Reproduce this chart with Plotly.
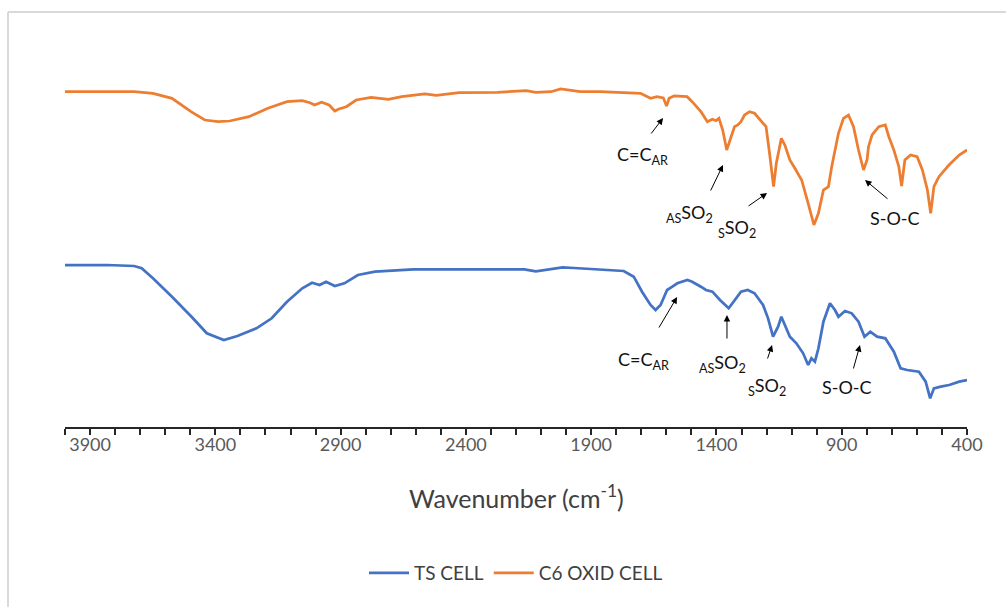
import plotly.graph_objects as go

# ---- data (wavenumber in cm-1, transmittance in arbitrary offset units) ----
wn_c6 = [4000, 3724, 3649, 3573, 3497, 3442, 3389, 3343, 3266, 3190, 3114, 3053, 3022, 3004,
         2976, 2946, 2923, 2907, 2877, 2838, 2778, 2709, 2656, 2564, 2518, 2427, 2274, 2159,
         2121, 2060, 2022, 1968, 1944, 1865, 1703, 1663, 1637, 1612, 1599, 1589, 1569, 1517,
         1497, 1462, 1436, 1416, 1402, 1390, 1375, 1359, 1349, 1328, 1315, 1302, 1288, 1268,
         1248, 1214, 1202, 1188, 1172, 1161, 1141, 1127, 1107, 1087, 1060, 1034, 1011, 993,
         973, 953, 940, 913, 893, 873, 853, 833, 813, 799, 793, 779, 752, 726, 712, 692, 672,
         661, 648, 625, 599, 578, 558, 545, 532, 512, 472, 431, 400]
t_c6 = [335.3, 335.3, 333.7, 328.7, 315.3, 307.0, 305.3, 306.0, 310.3, 318.7, 325.3, 326.3,
        324.3, 322.0, 324.7, 322.0, 316.0, 318.0, 320.3, 327.0, 329.7, 327.7, 330.3, 333.0,
        331.7, 334.3, 334.7, 336.3, 334.7, 335.3, 338.0, 336.3, 335.3, 335.3, 333.7, 328.7,
        330.3, 329.0, 321.0, 328.7, 331.0, 330.3, 325.3, 315.3, 305.3, 307.7, 306.3, 308.7,
        297.0, 277.0, 285.3, 300.3, 302.0, 305.3, 312.0, 315.3, 313.7, 303.7, 300.3, 273.7,
        240.3, 263.7, 288.7, 282.0, 267.0, 258.7, 247.0, 223.7, 202.0, 213.7, 237.0, 240.3,
        260.3, 293.7, 308.7, 312.0, 300.3, 277.0, 257.0, 267.0, 280.3, 292.0, 300.3, 302.0,
        290.3, 277.0, 260.3, 241.0, 267.0, 272.0, 270.3, 257.0, 237.0, 213.7, 240.3, 250.3,
        262.0, 272.0, 277.0]

wn_ts = [4000, 3832, 3724, 3694, 3649, 3573, 3495, 3434, 3366, 3312, 3236, 3175, 3114, 3053,
         3014, 2984, 2958, 2923, 2885, 2831, 2763, 2610, 2427, 2167, 2121, 2014, 1968, 1944,
         1865, 1770, 1730, 1697, 1663, 1643, 1623, 1597, 1576, 1556, 1516, 1497, 1462, 1442,
         1416, 1386, 1351, 1328, 1302, 1275, 1248, 1214, 1194, 1174, 1154, 1141, 1127, 1107,
         1081, 1054, 1034, 1021, 1007, 993, 973, 947, 927, 913, 887, 860, 833, 809, 786, 759,
         726, 692, 665, 639, 592, 565, 547, 532, 505, 471, 431, 400]
t_ts = [162.0, 162.0, 161.0, 158.7, 148.7, 130.3, 110.3, 93.7, 87.0, 91.0, 98.7, 108.7, 125.3,
        138.7, 144.3, 142.0, 145.3, 141.0, 143.7, 152.0, 155.3, 157.7, 157.7, 157.7, 155.7,
        159.7, 159.0, 158.7, 157.0, 156.0, 150.3, 135.3, 122.0, 117.0, 122.0, 137.0, 140.3,
        143.7, 147.0, 145.3, 140.3, 137.0, 135.3, 127.0, 118.7, 127.0, 135.3, 137.0, 133.7,
        122.0, 108.7, 90.3, 100.3, 110.3, 102.0, 90.3, 83.7, 73.7, 62.0, 68.7, 65.3, 78.7,
        105.3, 123.7, 117.0, 110.3, 116.0, 113.7, 105.3, 90.3, 95.3, 90.3, 88.7, 75.3, 58.7,
        57.0, 55.3, 45.3, 28.7, 38.7, 40.3, 42.0, 45.3, 47.0]

tick_vals = [3900, 3400, 2900, 2400, 1900, 1400, 900, 400]
tick_text = ["3900", "3400", "2900", "2400", "1900", "1400", "900", "400"]

# band labels: text, arrow-tip wavenumber, arrow-tip value
labels = ["C=C<sub>AR</sub>", "<sub>AS</sub>SO<sub>2</sub>", "<sub>S</sub>SO<sub>2</sub>", "S-O-C"]
c6_tip_wn = [1613, 1374, 1198, 807]
c6_tip_t = [309, 262, 234, 247]
ts_tip_wn = [1557, 1358, 1178, 827]
ts_tip_t = [130, 112, 82, 82]

# ---- styling ----
BLUE = "#4472C4"
ORANGE = "#ED7D31"
FONT = "Lato"

# arrow tail offsets (px) and text offsets (px) for each label
c6_tail = [(-13, 17), (-13, 27), (-20, 14), (24, 20)]
c6_text = [(-21, 37), (-33, 48), (-30, 35), (30, 38)]
ts_tail = [(-19, 32), (0, 25), (-5, 15), (-7, 25)]
ts_text = [(-34, 63), (-4, 48), (-5, 41), (-13, 42)]

fig = go.Figure()
fig.add_trace(go.Scatter(x=wn_ts, y=t_ts, mode="lines", name="TS CELL",
                         line=dict(color=BLUE, width=2.75)))
fig.add_trace(go.Scatter(x=wn_c6, y=t_c6, mode="lines", name="C6 OXID CELL",
                         line=dict(color=ORANGE, width=2.75)))

annotations = []
for tips_wn, tips_t, tails, texts in [(c6_tip_wn, c6_tip_t, c6_tail, c6_text),
                                       (ts_tip_wn, ts_tip_t, ts_tail, ts_text)]:
    for lab, w, t, (ax, ay), (dx, dy) in zip(labels, tips_wn, tips_t, tails, texts):
        annotations.append(dict(x=w, y=t, xref="x", yref="y", text="", showarrow=True,
                                ax=ax, ay=ay, arrowhead=2, arrowsize=1.3, arrowwidth=1,
                                arrowcolor="#000000", standoff=0, startstandoff=0))
        annotations.append(dict(x=w, y=t, xref="x", yref="y", text=lab, showarrow=False,
                                xanchor="center", yanchor="middle", xshift=dx, yshift=-dy,
                                font=dict(family=FONT, size=18, color="#111111")))

annotations.append(dict(x=0.5, y=-0.19, xref="paper", yref="paper",
                        text="Wavenumber (cm<sup>-1</sup>)", showarrow=False,
                        xanchor="center", yanchor="middle",
                        font=dict(family=FONT, size=25, color="#404040")))

fig.update_layout(
    width=1006, height=608,
    margin=dict(l=65, r=39, t=60, b=181),
    paper_bgcolor="white", plot_bgcolor="white",
    font=dict(family=FONT, color="#595959"),
    showlegend=True,
    legend=dict(orientation="h", x=0.5, xanchor="center", y=-0.398, yanchor="middle",
                font=dict(family=FONT, size=19, color="#404040"), itemwidth=40),
    annotations=annotations,
    shapes=[
        dict(type="line", xref="paper", yref="paper", x0=-0.0632, x1=-0.0632,
             y0=1.1308, y1=-0.49, line=dict(color="#d9d9d9", width=2)),
        dict(type="line", xref="paper", yref="paper", x0=-0.0632, x1=1.05,
             y0=1.1308, y1=1.1308, line=dict(color="#d9d9d9", width=2)),
    ],
)
fig.update_xaxes(range=[4000, 400], tickmode="array", tickvals=tick_vals, ticktext=tick_text,
                 showgrid=False, zeroline=False, showline=True, linecolor="#262626",
                 linewidth=1.5, ticks="outside", ticklen=6, tickcolor="#262626", tickwidth=1.5,
                 ticklabelstandoff=-5,
                 tickfont=dict(family=FONT, size=18, color="#595959"),
                 minor=dict(dtick=100, tick0=4000, ticks="outside", ticklen=6,
                            tickcolor="#262626", tickwidth=1.5, showgrid=False))
fig.update_yaxes(range=[0, 367], visible=False, showgrid=False, zeroline=False)

fig.write_html("out.html")
